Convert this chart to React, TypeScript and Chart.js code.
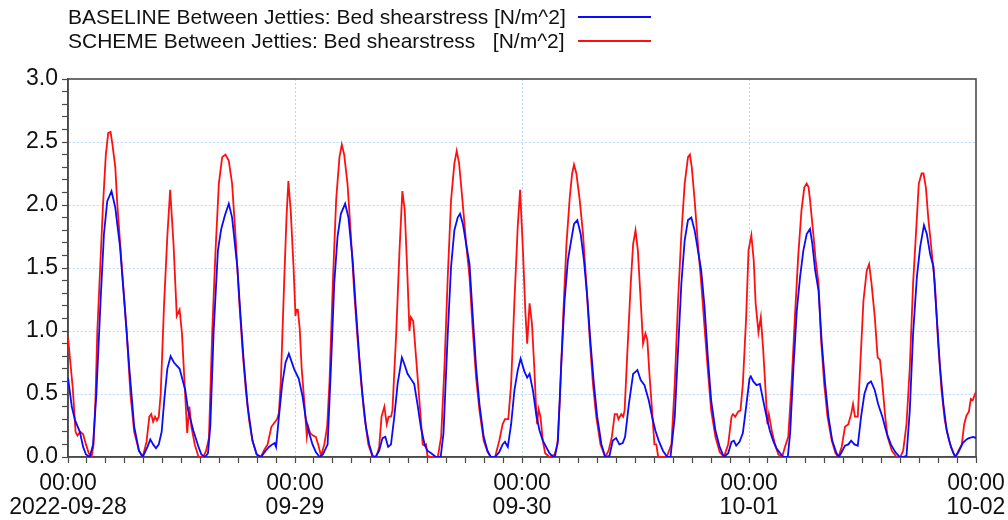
import React, { useEffect, useRef } from "react";
import { Chart, registerables } from "chart.js";

Chart.register(...registerables);

// Tick labels
const timeLabel = "00:00";
const dayLabels = ["2022-09-28", "09-29", "09-30", "10-01", "10-02"];
const yLabelStep = 0.5;

// Legend entries
const baselineName = "BASELINE Between Jetties: Bed shearstress [N/m^2]";
const schemeName = "SCHEME Between Jetties: Bed shearstress   [N/m^2]";

// [hours since 2022-09-28 00:00, bed shear stress N/m^2]
const baseline: [number, number][] = [
  [0, 0.63], [0.4, 0.4], [0.75, 0.29], [1.25, 0.2], [1.6, 0.08], [1.9, 0.02], [2.3, 0.0], [2.65, 0.1],
  [3.0, 0.5], [3.45, 1.25], [3.8, 1.77], [4.15, 2.03], [4.6, 2.11], [5.0, 1.98], [5.5, 1.67], [6.0, 1.19],
  [6.5, 0.69], [7.0, 0.24], [7.5, 0.05], [7.9, 0.0],
  [8.4, 0.08], [8.7, 0.14], [9.0, 0.1], [9.3, 0.07], [9.6, 0.1], [9.9, 0.2], [10.2, 0.47], [10.5, 0.7],
  [10.85, 0.8], [11.2, 0.75], [11.8, 0.7], [12.4, 0.53], [12.7, 0.37], [13.25, 0.21], [13.8, 0.08],
  [14.1, 0.02], [14.5, 0.0],
  [14.8, 0.03], [15.05, 0.25], [15.4, 1.0], [15.85, 1.64], [16.2, 1.81], [16.6, 1.92], [17.0, 2.01],
  [17.35, 1.9], [17.9, 1.51], [18.25, 1.11], [18.6, 0.74], [19.0, 0.4], [19.5, 0.13], [19.95, 0.02], [20.4, 0.0],
  [20.9, 0.05], [21.25, 0.08], [21.6, 0.1], [21.85, 0.11], [22.0, 0.08], [22.3, 0.32], [22.65, 0.58],
  [23.0, 0.75], [23.35, 0.82], [23.9, 0.7], [24.4, 0.62], [24.8, 0.48], [25.15, 0.3], [25.5, 0.19],
  [25.85, 0.1], [26.2, 0.04], [26.6, 0.0], [26.95, 0.02],
  [27.45, 0.1], [27.8, 0.71], [28.15, 1.38], [28.5, 1.75], [28.85, 1.93], [29.3, 2.01], [29.65, 1.9],
  [30.1, 1.56], [30.45, 1.16], [30.8, 0.79], [31.15, 0.48], [31.5, 0.24], [31.85, 0.1], [32.2, 0.01], [32.5, 0.0],
  [32.9, 0.05], [33.25, 0.15], [33.55, 0.16], [33.85, 0.08], [34.15, 0.1], [34.5, 0.32], [34.85, 0.58],
  [35.3, 0.79], [35.55, 0.74], [35.9, 0.66], [36.25, 0.62], [36.6, 0.58], [36.95, 0.42], [37.3, 0.24],
  [37.7, 0.1], [38.0, 0.05], [38.4, 0.03], [38.9, 0.0], [39.4, 0.0],
  [39.7, 0.19], [40.15, 0.98], [40.5, 1.51], [40.85, 1.8], [41.2, 1.9], [41.45, 1.93], [41.75, 1.85],
  [42.1, 1.69], [42.45, 1.53], [42.8, 1.11], [43.15, 0.71], [43.5, 0.42], [43.95, 0.16], [44.35, 0.05],
  [44.7, 0.0], [45.15, 0.0],
  [45.6, 0.04], [45.95, 0.1], [46.2, 0.12], [46.5, 0.08], [46.85, 0.26], [47.2, 0.53], [47.55, 0.69],
  [47.85, 0.78], [48.25, 0.68], [48.55, 0.63], [48.8, 0.66], [49.15, 0.53], [49.5, 0.34], [49.85, 0.21],
  [50.2, 0.13], [50.55, 0.08], [50.9, 0.03], [51.3, 0.0], [51.5, 0.01],
  [51.8, 0.13], [52.15, 0.74], [52.5, 1.24], [52.85, 1.56], [53.2, 1.72], [53.5, 1.85], [53.85, 1.88],
  [54.2, 1.77], [54.55, 1.56], [54.9, 1.27], [55.25, 0.9], [55.6, 0.58], [55.95, 0.32], [56.4, 0.1], [56.8, 0.0],
  [57.25, 0.01], [57.6, 0.13], [57.95, 0.15], [58.3, 0.1], [58.65, 0.11], [58.9, 0.16], [59.3, 0.42],
  [59.75, 0.66], [60.2, 0.69], [60.55, 0.61], [60.95, 0.57], [61.4, 0.45], [61.75, 0.32], [62.1, 0.21],
  [62.45, 0.13], [62.9, 0.05], [63.35, 0.0], [63.7, 0.0],
  [64.15, 0.32], [64.5, 0.85], [64.85, 1.38], [65.2, 1.72], [65.55, 1.88], [65.9, 1.9], [66.25, 1.8],
  [66.6, 1.64], [66.95, 1.48], [67.3, 1.19], [67.65, 0.79], [68.0, 0.45], [68.45, 0.21], [68.9, 0.08], [69.35, 0.0],
  [69.8, 0.03], [70.15, 0.12], [70.4, 0.13], [70.65, 0.09], [71.0, 0.12], [71.35, 0.19], [71.7, 0.4],
  [72.05, 0.62], [72.2, 0.64], [72.45, 0.6], [72.8, 0.57], [73.15, 0.58], [73.5, 0.45], [73.85, 0.32],
  [74.2, 0.21], [74.55, 0.13], [74.9, 0.07], [75.3, 0.03], [75.65, 0.0], [76.1, 0.0],
  [76.35, 0.19], [76.7, 0.71], [77.05, 1.16], [77.4, 1.43], [77.75, 1.64], [78.1, 1.77], [78.45, 1.81],
  [78.7, 1.69], [79.0, 1.48], [79.35, 1.32], [79.7, 0.9], [80.05, 0.58], [80.4, 0.32], [80.8, 0.13],
  [81.25, 0.03], [81.5, 0.0],
  [81.8, 0.04], [82.15, 0.09], [82.5, 0.1], [82.8, 0.13], [83.15, 0.1], [83.5, 0.09], [83.85, 0.32],
  [84.2, 0.5], [84.55, 0.58], [84.9, 0.6], [85.3, 0.53], [85.65, 0.42], [86.1, 0.32], [86.55, 0.19],
  [87.0, 0.1], [87.45, 0.04], [87.95, 0.0], [88.3, 0.0],
  [88.65, 0.01], [89.0, 0.37], [89.35, 0.98], [89.75, 1.43], [90.1, 1.67], [90.5, 1.84], [90.8, 1.77],
  [91.15, 1.61], [91.5, 1.51], [91.85, 1.11], [92.2, 0.71], [92.55, 0.42], [92.9, 0.21], [93.35, 0.08], [93.8, 0.0],
  [94.15, 0.04], [94.6, 0.11], [95.0, 0.14], [95.25, 0.15], [95.7, 0.16], [96.0, 0.15],
];

const scheme: [number, number][] = [
  [0, 0.95], [0.5, 0.55], [0.8, 0.2], [1.0, 0.17], [1.3, 0.2], [1.6, 0.18], [1.9, 0.1], [2.2, 0.03],
  [2.5, 0.0], [2.7, 0.1], [2.9, 0.45], [3.1, 1.0], [3.4, 1.5], [3.7, 2.0], [4.0, 2.4], [4.25, 2.57],
  [4.5, 2.58], [4.7, 2.48], [5.0, 2.3], [5.2, 2.02], [5.7, 1.5], [6.2, 1.0], [6.6, 0.5], [7.0, 0.2],
  [7.5, 0.05], [7.9, 0.0],
  [8.3, 0.12], [8.6, 0.32], [8.8, 0.34], [9.0, 0.28], [9.2, 0.32], [9.4, 0.29], [9.6, 0.32], [9.8, 0.5],
  [10.15, 1.2], [10.5, 1.75], [10.8, 2.12], [11.15, 1.7], [11.5, 1.12], [11.8, 1.17], [12.05, 0.98],
  [12.35, 0.55], [12.6, 0.19], [12.83, 0.4], [13.05, 0.24], [13.4, 0.1], [13.8, 0.0], [14.3, 0.0],
  [14.6, 0.05], [14.9, 0.15], [15.25, 1.0], [15.6, 1.64], [15.95, 2.17], [16.3, 2.38], [16.65, 2.4],
  [17.0, 2.35], [17.35, 2.17], [17.7, 1.77], [18.1, 1.24], [18.45, 0.85], [18.8, 0.53], [19.15, 0.29],
  [19.5, 0.13], [19.95, 0.02], [20.4, 0.0],
  [20.7, 0.05], [21.1, 0.1], [21.5, 0.24], [21.8, 0.27], [22.1, 0.3], [22.3, 0.35], [22.5, 0.6],
  [22.85, 1.38], [23.1, 1.9], [23.3, 2.19], [23.55, 1.95], [23.85, 1.5], [24.05, 1.12],
  [24.15, 1.17], [24.3, 1.17], [24.5, 1.02], [24.7, 0.71], [25.0, 0.42], [25.25, 0.16], [25.4, 0.24],
  [25.6, 0.19], [25.9, 0.17], [26.2, 0.16], [26.45, 0.1], [26.75, 0.01], [27.1, 0.1], [27.4, 0.24],
  [27.65, 0.6], [28.0, 1.38], [28.35, 2.04], [28.7, 2.38], [28.95, 2.48], [29.2, 2.4], [29.55, 2.17],
  [29.9, 1.77], [30.25, 1.32], [30.6, 0.95], [31.0, 0.58], [31.35, 0.32], [31.75, 0.1], [32.2, 0.0], [32.6, 0.0],
  [32.9, 0.08], [33.15, 0.32], [33.45, 0.4], [33.7, 0.26], [33.9, 0.32], [34.15, 0.32], [34.3, 0.37],
  [34.7, 0.98], [35.05, 1.64], [35.35, 2.11], [35.6, 1.96], [35.85, 1.51], [36.1, 1.0], [36.25, 1.11],
  [36.5, 1.08], [36.8, 0.79], [37.15, 0.45], [37.5, 0.1], [37.7, 0.09], [37.85, 0.1], [38.0, 0.01],
  [38.4, 0.0], [39.1, 0.0],
  [39.45, 0.16], [39.8, 0.71], [40.15, 1.43], [40.5, 2.04], [40.85, 2.33], [41.1, 2.43], [41.35, 2.33],
  [41.7, 2.04], [42.1, 1.69], [42.45, 1.43], [42.8, 1.0], [43.15, 0.63], [43.5, 0.37], [43.95, 0.13],
  [44.35, 0.04], [44.7, 0.0], [45.15, 0.0],
  [45.6, 0.13], [45.95, 0.26], [46.2, 0.3], [46.55, 0.3], [46.85, 0.58], [47.2, 1.24], [47.55, 1.83],
  [47.8, 2.12], [48.1, 1.64], [48.35, 1.16], [48.55, 0.9], [48.8, 1.22], [49.05, 1.06], [49.3, 0.71],
  [49.5, 0.37], [49.6, 0.26], [49.75, 0.38], [49.95, 0.32], [50.2, 0.13], [50.45, 0.03], [50.9, 0.0], [51.45, 0.02],
  [51.75, 0.1], [52.0, 0.45], [52.35, 1.11], [52.7, 1.69], [53.05, 2.06], [53.3, 2.25], [53.5, 2.32],
  [53.75, 2.25], [54.1, 2.04], [54.45, 1.77], [54.8, 1.38], [55.15, 0.95], [55.5, 0.58], [55.85, 0.32],
  [56.3, 0.1], [56.8, 0.0],
  [57.15, 0.05], [57.5, 0.16], [57.8, 0.34], [58.05, 0.34], [58.2, 0.3], [58.5, 0.34], [58.7, 0.32],
  [58.85, 0.37], [59.15, 0.85], [59.5, 1.38], [59.75, 1.69], [60.0, 1.8], [60.25, 1.64], [60.55, 1.24],
  [60.8, 0.9], [61.05, 0.98], [61.25, 0.93], [61.5, 0.63], [61.75, 0.37], [62.0, 0.1], [62.2, 0.1],
  [62.4, 0.0], [63.3, 0.0],
  [63.8, 0.1], [64.15, 0.58], [64.5, 1.24], [64.85, 1.77], [65.2, 2.17], [65.55, 2.38], [65.75, 2.4],
  [65.95, 2.3], [66.25, 2.04], [66.6, 1.69], [66.95, 1.38], [67.3, 1.03], [67.65, 0.69], [68.0, 0.37],
  [68.45, 0.16], [68.9, 0.04], [69.35, 0.0],
  [69.8, 0.1], [70.15, 0.32], [70.3, 0.34], [70.55, 0.32], [70.85, 0.36], [71.1, 0.37], [71.35, 0.58],
  [71.7, 1.11], [71.95, 1.64], [72.25, 1.76], [72.5, 1.56], [72.7, 1.22], [73.0, 0.99], [73.25, 1.11],
  [73.5, 0.85], [73.75, 0.53], [73.95, 0.26], [74.1, 0.34], [74.4, 0.21], [74.75, 0.1], [75.1, 0.02], [75.5, 0.0],
  [75.8, 0.08], [76.15, 0.16], [76.5, 0.58], [76.85, 1.11], [77.2, 1.59], [77.55, 1.96], [77.85, 2.14],
  [78.1, 2.17], [78.3, 2.14], [78.45, 2.04], [78.8, 1.77], [79.05, 1.56], [79.35, 1.38], [79.6, 0.95],
  [79.95, 0.58], [80.3, 0.32], [80.75, 0.13], [81.15, 0.03], [81.45, 0.0],
  [81.8, 0.08], [82.15, 0.24], [82.5, 0.26], [82.8, 0.34], [83.0, 0.42], [83.2, 0.32], [83.5, 0.32],
  [83.75, 0.71], [84.1, 1.24], [84.45, 1.48], [84.7, 1.53], [84.95, 1.38], [85.3, 1.11], [85.6, 0.79],
  [85.85, 0.77], [86.1, 0.58], [86.4, 0.32], [86.65, 0.16], [87.1, 0.05], [87.6, 0.0], [88.0, 0.0],
  [88.3, 0.05], [88.65, 0.26], [89.0, 0.71], [89.35, 1.38], [89.75, 1.9], [89.95, 2.17], [90.25, 2.25],
  [90.45, 2.25], [90.7, 2.14], [90.95, 1.9], [91.3, 1.64], [91.65, 1.38], [92.0, 0.9], [92.35, 0.53],
  [92.7, 0.29], [93.15, 0.13], [93.6, 0.03], [93.85, 0.0],
  [94.15, 0.05], [94.5, 0.1], [94.75, 0.26], [95.0, 0.33], [95.25, 0.36], [95.45, 0.46], [95.65, 0.45],
  [95.9, 0.5], [96.0, 0.52],
];

const BLUE = "#0a0aff";
const RED = "#ff1010";
const GRID = "#b9d6f3";
const AXIS = "#4a4a4a";
const FONT = '"Liberation Sans", Arial, Helvetica, sans-serif';

const boxPlugin = {
  id: "plotBox",
  beforeDatasetsDraw(chart: any) {
    const { ctx, chartArea: a } = chart;
    ctx.save();
    ctx.strokeStyle = AXIS;
    ctx.lineWidth = 1.6;
    ctx.strokeRect(a.left, a.top, a.right - a.left, a.bottom - a.top);
    ctx.restore();
  },
};

export default function App() {
  const canvasRef = useRef<HTMLCanvasElement | null>(null);

  useEffect(() => {
    if (!canvasRef.current) return;
    const chart = new Chart(canvasRef.current, {
      type: "line",
      data: {
        datasets: [
          {
            label: baselineName,
            data: baseline.map(([x, y]) => ({ x, y })),
            borderColor: BLUE,
            borderWidth: 1.8,
            pointRadius: 0,
            tension: 0,
            fill: false,
          },
          {
            label: schemeName,
            data: scheme.map(([x, y]) => ({ x, y })),
            borderColor: RED,
            borderWidth: 1.8,
            pointRadius: 0,
            tension: 0,
            fill: false,
          },
        ],
      },
      plugins: [boxPlugin],
      options: {
        responsive: false,
        animation: false,
        devicePixelRatio: 1,
        layout: { padding: { top: 79, right: 32, left: 0, bottom: 0 } },
        plugins: { legend: { display: false }, tooltip: { enabled: false } },
        scales: {
          x: {
            type: "linear",
            min: 0,
            max: 96,
            ticks: {
              stepSize: 2,
              autoSkip: false,
              maxRotation: 0,
              minRotation: 0,
              padding: 9,
              color: "#111",
              font: { family: FONT, size: 23, lineHeight: 1.03 },
              callback: (v: any) => {
                const n = Math.round(Number(v));
                return n % 24 === 0 ? [timeLabel, dayLabels[n / 24]] : "";
              },
            },
            grid: {
              color: (ctx: any) => {
                const n = Math.round(ctx.tick ? ctx.tick.value : 0);
                return n % 24 === 0 && n > 0 && n < 96 ? GRID : "rgba(0,0,0,0)";
              },
              tickColor: AXIS,
              tickLength: 6,
              lineWidth: 1,
              tickWidth: 1.2,
            },
            border: { display: true, color: AXIS, width: 1.6, dash: [2, 2] },
            afterFit: (s: any) => {
              s.height = 63;
              s.paddingLeft = 0;
              s.paddingRight = 0;
            },
          },
          y: {
            type: "linear",
            min: 0,
            max: 3,
            ticks: {
              stepSize: 0.1,
              autoSkip: false,
              padding: 4,
              color: "#111",
              font: { family: FONT, size: 23 },
              callback: (v: any) => {
                const r = Math.round(Number(v) * 10);
                return r % Math.round(yLabelStep * 10) === 0 ? (r / 10).toFixed(1) : "";
              },
            },
            grid: {
              color: (ctx: any) => {
                const r = Math.round((ctx.tick ? ctx.tick.value : 0) * 10);
                return r % 5 === 0 && r > 0 && r < 30 ? GRID : "rgba(0,0,0,0)";
              },
              tickColor: AXIS,
              tickLength: 6,
              lineWidth: 1,
              tickWidth: 1.2,
            },
            border: { display: true, color: AXIS, width: 1.6, dash: [2, 2] },
            afterFit: (s: any) => {
              s.width = 68;
            },
          },
        },
      },
    } as any);
    return () => chart.destroy();
  }, []);

  const legendText: React.CSSProperties = {
    position: "absolute",
    left: 68,
    fontFamily: FONT,
    fontSize: 21,
    lineHeight: "24px",
    whiteSpace: "pre",
    color: "#111",
  };
  const legendLine = (top: number, color: string): React.CSSProperties => ({
    position: "absolute",
    left: 578,
    top,
    width: 73,
    height: 2,
    background: color,
  });

  return (
    <div style={{ position: "absolute", left: 0, top: 0, width: 1008, height: 520, background: "#fff" }}>
      <canvas ref={canvasRef} width={1008} height={520} style={{ display: "block", position: "absolute", left: 0, top: 0 }} />
      <div style={{ ...legendText, top: 5 }}>{baselineName}</div>
      <div style={legendLine(16, BLUE)} />
      <div style={{ ...legendText, top: 29 }}>{schemeName}</div>
      <div style={legendLine(40, RED)} />
    </div>
  );
}
